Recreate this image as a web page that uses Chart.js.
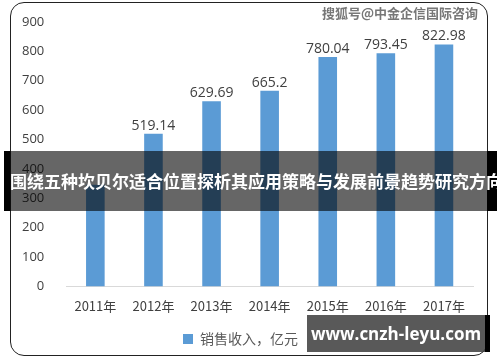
<!DOCTYPE html>
<html>
<head>
<meta charset="utf-8">
<script src="https://cdn.jsdelivr.net/npm/chart.js@4/dist/chart.umd.min.js"></script>
<style>
  html, body { margin: 0; padding: 0; background: #fff; }
  #wrap { position: relative; width: 500px; height: 362px; overflow: hidden; }
  #frame { position: absolute; left: 10px; top: 2px; width: 478px; height: 354px;
           border: 1.5px solid #222; border-radius: 14px; box-sizing: border-box; }
  #chart { position: absolute; left: 0; top: 0; }
  .band { position: absolute; left: 4px; top: 151px; width: 493px; height: 60px;
          background: rgba(0,0,0,0.6); border-left: 6px solid #000; border-right: 10px solid #000;
          box-sizing: border-box; color: #fff; font: bold 17px "Noto Sans CJK SC", sans-serif;
          line-height: 60px; text-align: center; white-space: nowrap; }
  .mark { position: absolute; right: 22px; top: 3px; color: #777; font: bold 13px "Noto Sans CJK SC", sans-serif;
          text-shadow: 0 0 2px #fff, 0 0 2px #fff; }
  .site { position: absolute; left: 307px; top: 315px; width: 183px; height: 37px;
          background: rgba(60,60,60,0.85); border-right: 5px solid #000; box-sizing: border-box;
          color: #fff; font: bold 17px "Open Sans", "DejaVu Sans", sans-serif; line-height: 37px; text-align: center; }
</style>
</head>
<body>
<div id="wrap">
  <div id="frame"></div>
  <canvas id="chart" width="500" height="362"></canvas>
  <div class="mark">搜狐号@中金企信国际咨询</div>
  <div class="band">围绕五种坎贝尔适合位置探析其应用策略与发展前景趋势研究方向</div>
  <div class="site">www.cnzh-leyu.com</div>
</div>
<script>
const years = ['2011年', '2012年', '2013年', '2014年', '2015年', '2016年', '2017年'];
const sales = [346, 519.14, 629.69, 665.2, 780.04, 793.45, 822.98];
const salesLabels = ['', '519.14', '629.69', '665.2', '780.04', '793.45', '822.98'];
const yTicks = [0, 100, 200, 300, 400, 500, 600, 700, 800, 900];

// labels above the bars
const barLabels = {
  id: 'barLabels',
  afterDatasetsDraw(chart) {
    const ctx = chart.ctx;
    const meta = chart.getDatasetMeta(0);
    ctx.save();
    ctx.font = '14px "Open Sans", "DejaVu Sans", sans-serif';
    ctx.fillStyle = '#404040';
    ctx.textAlign = 'center';
    ctx.textBaseline = 'bottom';
    meta.data.forEach(function (bar, i) {
      ctx.fillText(salesLabels[i], bar.x, bar.y - 1);
    });
    ctx.restore();
  }
};

const ctx = document.getElementById('chart').getContext('2d');
new Chart(ctx, {
  type: 'bar',
  data: {
    labels: years,
    datasets: [{
      label: '销售收入，亿元',
      data: sales,
      backgroundColor: '#5b9bd5',
      categoryPercentage: 1,
      barPercentage: 0.32
    }]
  },
  options: {
    responsive: false,
    animation: false,
    layout: { padding: { left: 8, right: 27, top: 9, bottom: 6 } },
    plugins: {
      legend: {
        position: 'bottom',
        labels: {
          boxWidth: 10, boxHeight: 10, padding: 14, color: '#595959',
          font: { size: 14, family: '"Noto Sans CJK SC", sans-serif' }
        }
      },
      tooltip: { enabled: false }
    },
    scales: {
      y: {
        min: 0, max: 900,
        afterBuildTicks: function (axis) { axis.ticks = yTicks.map(v => ({ value: v })); },
        grid: { display: false },
        border: { display: false },
        ticks: { color: '#404040', padding: 14, font: { size: 13, family: '"Open Sans", "DejaVu Sans", sans-serif' } }
      },
      x: {
        grid: { display: false },
        border: { color: '#d9d9d9' },
        ticks: { color: '#404040', padding: 4, font: { size: 13, family: '"Noto Sans CJK SC", sans-serif' } }
      }
    }
  },
  plugins: [barLabels]
});
</script>
</body>
</html>
